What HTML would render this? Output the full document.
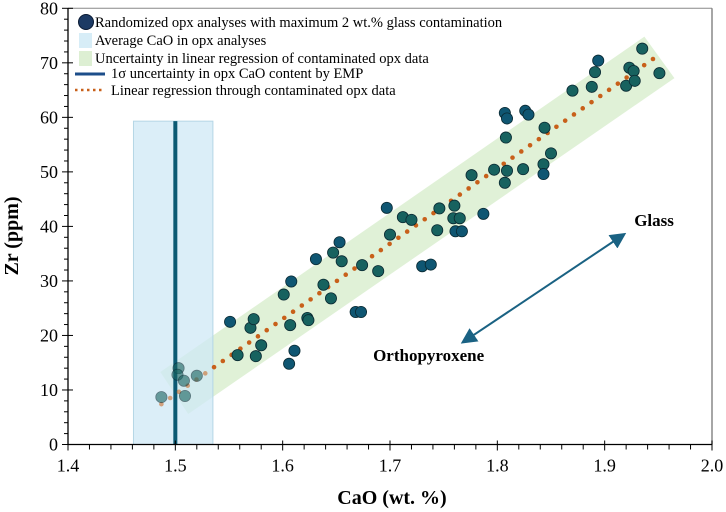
<!DOCTYPE html>
<html><head><meta charset="utf-8"><style>
body{margin:0;background:#fff}
svg{display:block;font-family:"Liberation Serif",serif}
</style></head><body>
<svg id="chart" width="726" height="512">
<g id="layer"></g>
</svg>
<script>
const xTicks=[1.4,1.5,1.6,1.7,1.8,1.9,2.0];
const xTickLabels=["1.4","1.5","1.6","1.7","1.8","1.9","2.0"];
const yTicks=[0,10,20,30,40,50,60,70,80];
const cao=[1.487,1.503,1.502,1.508,1.509,1.520,1.551,1.558,1.570,1.573,1.575,1.580,1.601,1.608,1.607,1.611,1.606,1.623,1.624,1.631,1.638,1.645,1.647,1.653,1.655,1.668,1.673,1.674,1.689,1.697,1.700,1.712,1.720,1.730,1.738,1.744,1.746,1.760,1.759,1.765,1.761,1.767,1.776,1.787,1.797,1.807,1.807,1.809,1.808,1.809,1.824,1.826,1.829,1.844,1.843,1.843,1.850,1.870,1.888,1.891,1.894,1.920,1.923,1.927,1.928,1.935,1.951];
const zr=[8.7,14.0,12.8,11.7,8.9,12.6,22.5,16.4,21.4,23.0,16.2,18.2,27.5,29.9,21.9,17.2,14.8,23.2,22.8,34.0,29.3,26.8,35.2,37.1,33.6,24.3,24.3,32.9,31.8,43.4,38.5,41.7,41.2,32.7,33.0,39.3,43.3,43.8,41.5,41.5,39.1,39.1,49.4,42.3,50.4,48.0,60.8,59.8,56.3,50.2,50.5,61.2,60.5,58.1,51.4,49.6,53.4,64.9,65.6,68.3,70.4,65.8,69.1,68.5,66.7,72.6,68.1];
const blueFlag=[0,0,0,0,0,0,1,0,0,0,0,0,0,1,0,1,1,0,0,1,0,0,0,1,0,1,1,0,0,1,0,0,0,1,1,0,0,0,0,0,1,1,0,1,0,0,1,1,0,0,0,1,1,0,0,1,0,0,0,0,1,0,0,0,0,0,0];
const regX=[1.487,1.945];
const regY=[7.4,70.7];
const bandX=[1.486,1.937,1.965,1.512];
const bandY=[13.3,74.8,67.2,5.6];
const avgCaO=[1.461,1.535];
const avgTop=59.3;
const sigmaX=1.50;
const arrowX=[1.769,1.917];
const arrowY=[18.9,38.4];

const X0=68,X1=712,Y0=444.5,Y1=8.3;
const sx=v=>X0+(v-1.4)/0.6*(X1-X0);
const sy=v=>Y0-(v/80)*(Y0-Y1);
const NS="http://www.w3.org/2000/svg";
const L=document.getElementById('layer');
function mk(t,a,p){const e=document.createElementNS(NS,t);for(const k in a)e.setAttribute(k,a[k]);(p||L).appendChild(e);return e;}

let pts=bandX.map((x,i)=>sx(x)+','+sy(bandY[i])).join(' ');
let band=mk('polygon',{points:pts,fill:'#d6ecc9',opacity:0.75});


let ar=mk('rect',{x:sx(avgCaO[0]),y:sy(avgTop),width:sx(avgCaO[1])-sx(avgCaO[0]),height:sy(0)-sy(avgTop),fill:'#cfe8f5',stroke:'#b5d6e6','fill-opacity':0.75});


let sl=mk('line',{x1:sx(sigmaX),x2:sx(sigmaX),y1:sy(avgTop),y2:sy(0),stroke:'#0b5a73','stroke-width':4});


const n=56;
for(let i=0;i<=n;i++){const t=i/n;const x=regX[0]+t*(regX[1]-regX[0]),y=regY[0]+t*(regY[1]-regY[0]);
 let d=mk('circle',{cx:sx(x),cy:sy(y),r:2.3,fill:'#c8601a',opacity:(x<1.53?0.55:1)});
 
 }
cao.forEach((c,i)=>{
 let p=mk('circle',{cx:sx(c),cy:sy(zr[i]),r:5.6,fill:blueFlag[i]?'#0f5672':'#17625f',stroke:'#0a2a33','stroke-width':0.8,opacity:(c<1.535?0.6:1)});
 
 
});
mk('defs',{}).innerHTML='<marker id="ah" markerWidth="8" markerHeight="8" refX="6" refY="4" orient="auto-start-reverse"><path d="M0,0 L8,4 L0,8 z" fill="#1a6283"/></marker>';
let aw=mk('line',{x1:sx(arrowX[0]),y1:sy(arrowY[0]),x2:sx(arrowX[1]),y2:sy(arrowY[1]),stroke:'#1a6283','stroke-width':2,'marker-start':'url(#ah)','marker-end':'url(#ah)'});


let g1=mk('text',{x:sx(1.946),y:sy(41.2)+6,'text-anchor':'middle','font-size':17,'font-weight':'bold'});g1.textContent='Glass';


let g2=mk('text',{x:sx(1.736),y:sy(16.4)+6,'text-anchor':'middle','font-size':17,'font-weight':'bold'});g2.textContent='Orthopyroxene';


mk('line',{x1:X0,x2:X1,y1:Y1,y2:Y1,stroke:'#888','stroke-width':1});
mk('line',{x1:X1,x2:X1,y1:Y1,y2:Y0,stroke:'#888','stroke-width':1.5});
let xa=mk('line',{x1:X0,x2:X1,y1:Y0,y2:Y0,stroke:'#000','stroke-width':1.3});


let ya=mk('line',{x1:X0,x2:X0,y1:Y1,y2:Y0,stroke:'#000','stroke-width':1.3});


for(let v=1.4;v<=2.0001;v+=0.02){const x=sx(v);const major=Math.abs(v*10-Math.round(v*10))<1e-6;mk('line',{x1:x,x2:x,y1:Y0-(major?4:0),y2:Y0+(major?6:5),stroke:'#000'});}
for(let v=0;v<=80;v+=2){const y=sy(v);const major=v%10==0;mk('line',{x1:X0-(major?6:4),x2:X0+(major?5:0),y1:y,y2:y,stroke:'#000'});}
xTicks.forEach((v,i)=>{let t=mk('text',{x:sx(v),y:Y0+27,'text-anchor':'middle','font-size':18});t.textContent=xTickLabels[i];
 
 });
yTicks.forEach(v=>{let t=mk('text',{x:X0-10,y:sy(v)+6,'text-anchor':'end','font-size':18});t.textContent=v;
 
 });
let xt=mk('text',{x:392,y:504,'text-anchor':'middle','font-size':20,'font-weight':'bold'});xt.textContent='CaO (wt. %)';


let yt=mk('text',{x:0,y:0,'text-anchor':'middle','font-size':20,'font-weight':'bold',transform:'translate(18,236) rotate(-90)'});yt.textContent='Zr (ppm)';


const lg=mk('g',{});


mk('circle',{cx:86,cy:22,r:7.5,fill:'#1c3a64',stroke:'#0a1a33'},lg);
mk('rect',{x:79,y:33,width:13,height:15,fill:'#d7edf7'},lg);
mk('rect',{x:79,y:51,width:13,height:15,fill:'#ddefd3'},lg);
mk('line',{x1:75,x2:105,y1:74,y2:74,stroke:'#1c4e8a','stroke-width':3},lg);
mk('line',{x1:75,x2:105,y1:90,y2:90,stroke:'#c8601a','stroke-width':2.5,'stroke-dasharray':'2.5,3.5'},lg);
[['Randomized opx analyses with maximum 2 wt.% glass contamination',95,27],['Average CaO in opx analyses',95,45],['Uncertainty in linear regression of contaminated opx data',95,63],['1σ uncertainty in opx CaO content by EMP',111,78],['Linear regression through contaminated opx data',111,95]].forEach(a=>{
 let t=mk('text',{x:a[1],y:a[2],'font-size':14.5},lg);t.textContent=a[0];
 
 
});
</script>
</body></html>
